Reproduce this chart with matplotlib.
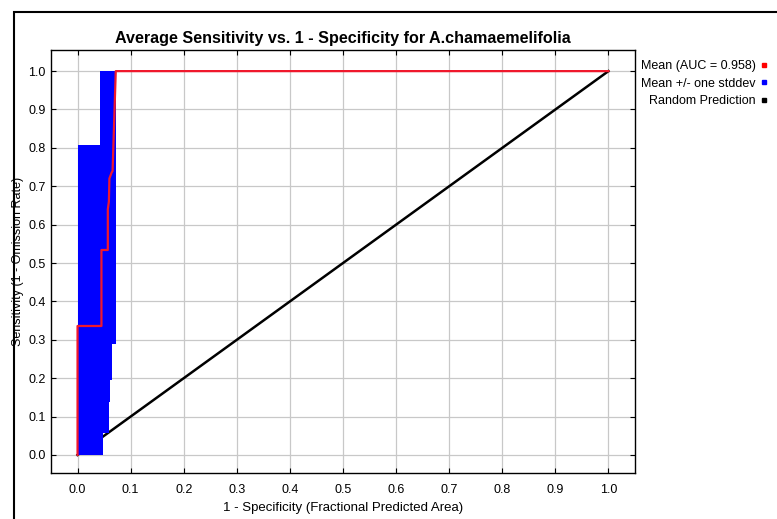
import matplotlib
matplotlib.use("Agg")
import matplotlib.pyplot as plt
from matplotlib.patches import Rectangle
from matplotlib.lines import Line2D

plt.rcParams['font.family'] = ['Liberation Sans', 'DejaVu Sans']

# mean ROC curve (1 - specificity, sensitivity)
mean_x = [0.0, 0.0, 0.045, 0.045, 0.057, 0.057, 0.059, 0.060, 0.064, 0.066, 0.072, 1.0]
mean_y = [0.0, 0.336, 0.336, 0.534, 0.534, 0.64, 0.66, 0.72, 0.735, 0.74, 1.0, 1.0]

# mean +/- one stddev band (step edges)
band_x = [0.0, 0.043, 0.048, 0.060, 0.061, 0.064, 0.073]
band_low = [0.0, 0.0, 0.057, 0.139, 0.195, 0.29, 1.0]
band_high = [0.807, 1.0, 1.0, 1.0, 1.0, 1.0, 1.0]

random_x = [0.0, 1.0]
random_y = [0.0, 1.0]

ticks = [i / 10 for i in range(11)]
tick_labels = ["%.1f" % t for t in ticks]

fig = plt.figure(figsize=(7.77, 5.19), dpi=100)
ax = fig.add_axes([51 / 777, 1 - 473 / 519, 584 / 777, 423 / 519])

ax.plot(random_x, random_y, color='black', linewidth=1.8, zorder=2)
ax.fill_between(band_x, band_low, band_high, step='post', color='#0000ff',
                linewidth=0, zorder=3)
ax.plot(mean_x, mean_y, color='#f0182c', linewidth=1.6, zorder=4)

ax.set_xlim(-0.05, 1.05)
ax.set_ylim(-0.047, 1.055)
ax.set_xticks(ticks)
ax.set_xticklabels(tick_labels)
ax.set_yticks(ticks)
ax.set_yticklabels(tick_labels)
ax.grid(True, color='#c8c8c8', linewidth=0.9)
ax.set_axisbelow(True)
ax.tick_params(labelsize=9, direction='in', length=3.5, width=0.8,
               top=True, right=True)
ax.tick_params(axis='x', pad=8)
ax.tick_params(axis='y', pad=4)
for s in ax.spines.values():
    s.set_linewidth(1.0)

ax.set_title("Average Sensitivity vs. 1 - Specificity for A.chamaemelifolia",
             fontsize=11.6, fontweight='bold', pad=5)
ax.set_xlabel("1 - Specificity (Fractional Predicted Area)", fontsize=9.5)
ax.set_ylabel("Sensitivity (1 - Omission Rate)", fontsize=9)
ax.xaxis.set_label_coords(0.5, -0.069)
ax.yaxis.set_label_coords(-0.047, 0.5)

handles = [
    Line2D([], [], marker='s', linestyle='none', color='red', markersize=3.5),
    Line2D([], [], marker='s', linestyle='none', color='blue', markersize=3.5),
    Line2D([], [], marker='s', linestyle='none', color='black', markersize=3.5),
]
labels = ["Mean (AUC = 0.958)", "Mean +/- one stddev", "Random Prediction"]
fig.legend(handles, labels, loc='upper right', bbox_to_anchor=(1.0, 1 - 50 / 519),
           markerfirst=False, frameon=False, fontsize=9, handlelength=0.5,
           handletextpad=0.4, labelspacing=0.45, borderaxespad=0.4)

# outer frame of the chart panel
fig.add_artist(Rectangle((14 / 777, -0.1), 1.2, 1 - 12 / 519 + 0.1,
                         transform=fig.transFigure, fill=False,
                         edgecolor='black', linewidth=1.5))

fig.savefig("out.png", dpi=100)
